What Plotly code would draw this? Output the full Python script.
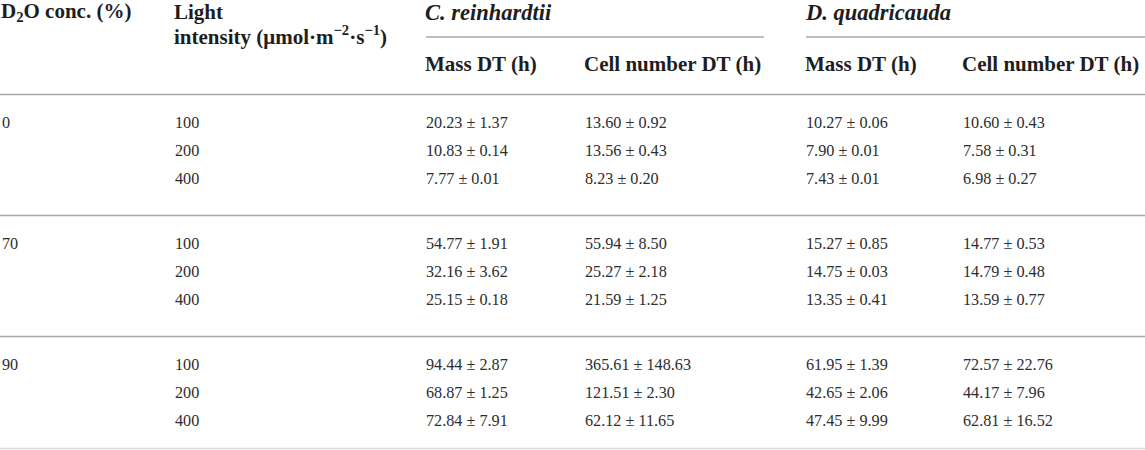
import plotly.graph_objects as go

# table content
d2o_conc = ["0", "70", "90"]
light = ["100", "200", "400"]

cr_mass = [["20.23 ± 1.37", "10.83 ± 0.14", "7.77 ± 0.01"],
           ["54.77 ± 1.91", "32.16 ± 3.62", "25.15 ± 0.18"],
           ["94.44 ± 2.87", "68.87 ± 1.25", "72.84 ± 7.91"]]
cr_cell = [["13.60 ± 0.92", "13.56 ± 0.43", "8.23 ± 0.20"],
           ["55.94 ± 8.50", "25.27 ± 2.18", "21.59 ± 1.25"],
           ["365.61 ± 148.63", "121.51 ± 2.30", "62.12 ± 11.65"]]
dq_mass = [["10.27 ± 0.06", "7.90 ± 0.01", "7.43 ± 0.01"],
           ["15.27 ± 0.85", "14.75 ± 0.03", "13.35 ± 0.41"],
           ["61.95 ± 1.39", "42.65 ± 2.06", "47.45 ± 9.99"]]
dq_cell = [["10.60 ± 0.43", "7.58 ± 0.31", "6.98 ± 0.27"],
           ["14.77 ± 0.53", "14.79 ± 0.48", "13.59 ± 0.77"],
           ["72.57 ± 22.76", "44.17 ± 7.96", "62.81 ± 16.52"]]

species = ["<i>C. reinhardtii</i>", "<i>D. quadricauda</i>"]
sub_headers = ["Mass DT (h)", "Cell number DT (h)", "Mass DT (h)", "Cell number DT (h)"]

# layout (pixels)
W, H = 1145, 450
col_x = [2, 175, 426, 585, 806, 963]
rule_y = [94.5, 215.5, 336.5]
row_off = 29
row_h = 28.4
SERIF = "Liberation Serif"
TXT = "#2e2e2e"
RULE = "#a8a8a8"

fig = go.Figure()

xs, ys, ts = [], [], []
for g in range(3):
    for r in range(3):
        y = rule_y[g] + row_off + r * row_h
        if r == 0:
            xs.append(col_x[0]); ys.append(y); ts.append(d2o_conc[g])
        xs.append(col_x[1]); ys.append(y); ts.append(light[r])
        for c, col in enumerate([cr_mass, cr_cell, dq_mass, dq_cell]):
            xs.append(col_x[2 + c]); ys.append(y); ts.append(col[g][r])

fig.add_trace(go.Scatter(
    x=xs, y=ys, text=ts, mode="text", textposition="middle right",
    textfont=dict(family=SERIF, size=16.2, color=TXT),
    hoverinfo="skip", showlegend=False, cliponaxis=False,
))

hdr_font = dict(family=SERIF, size=21, color="#1e1e1e")
sp_font = dict(family=SERIF, size=22.5, color="#1e1e1e")
headers = [
    (col_x[0], 12, "<b>D<sub>2</sub>O conc. (%)</b>", hdr_font),
    (col_x[1], 12, "<b>Light</b>", hdr_font),
    (col_x[1], 35, "<b>intensity (μmol·m<sup>−2</sup>·s<sup>−1</sup>)</b>", hdr_font),
    (col_x[2], 12, "<b>" + species[0] + "</b>", sp_font),
    (col_x[4], 12, "<b>" + species[1] + "</b>", sp_font),
]
for i, s in enumerate(sub_headers):
    headers.append((col_x[2 + i], 64, "<b>" + s + "</b>", hdr_font))
for x, y, t, f in headers:
    fig.add_annotation(x=x, y=y, text=t, showarrow=False, xanchor="left",
                       yanchor="middle", font=f, xref="x", yref="y",
                       xshift=-3)

# rules
fig.add_shape(type="line", x0=col_x[2], x1=764, y0=37, y1=37,
              line=dict(color=RULE, width=1.5))
fig.add_shape(type="line", x0=col_x[4], x1=W, y0=37, y1=37,
              line=dict(color=RULE, width=1.5))
for y in rule_y:
    fig.add_shape(type="line", x0=0, x1=W, y0=y, y1=y,
                  line=dict(color=RULE, width=1.5))
fig.add_shape(type="line", x0=0, x1=W, y0=448.5, y1=448.5,
              line=dict(color="#dcdcdc", width=1.5))

fig.update_layout(
    width=W, height=H,
    margin=dict(l=0, r=0, t=0, b=0),
    paper_bgcolor="white", plot_bgcolor="white",
    xaxis=dict(range=[0, W], visible=False, fixedrange=True),
    yaxis=dict(range=[H, 0], visible=False, fixedrange=True),
)

# drop the default page margin so the table sits at the window's corner
fig.write_html("out.html", config={"displayModeBar": False},
               post_script="document.body.style.margin='0';document.body.style.overflow='hidden';")
